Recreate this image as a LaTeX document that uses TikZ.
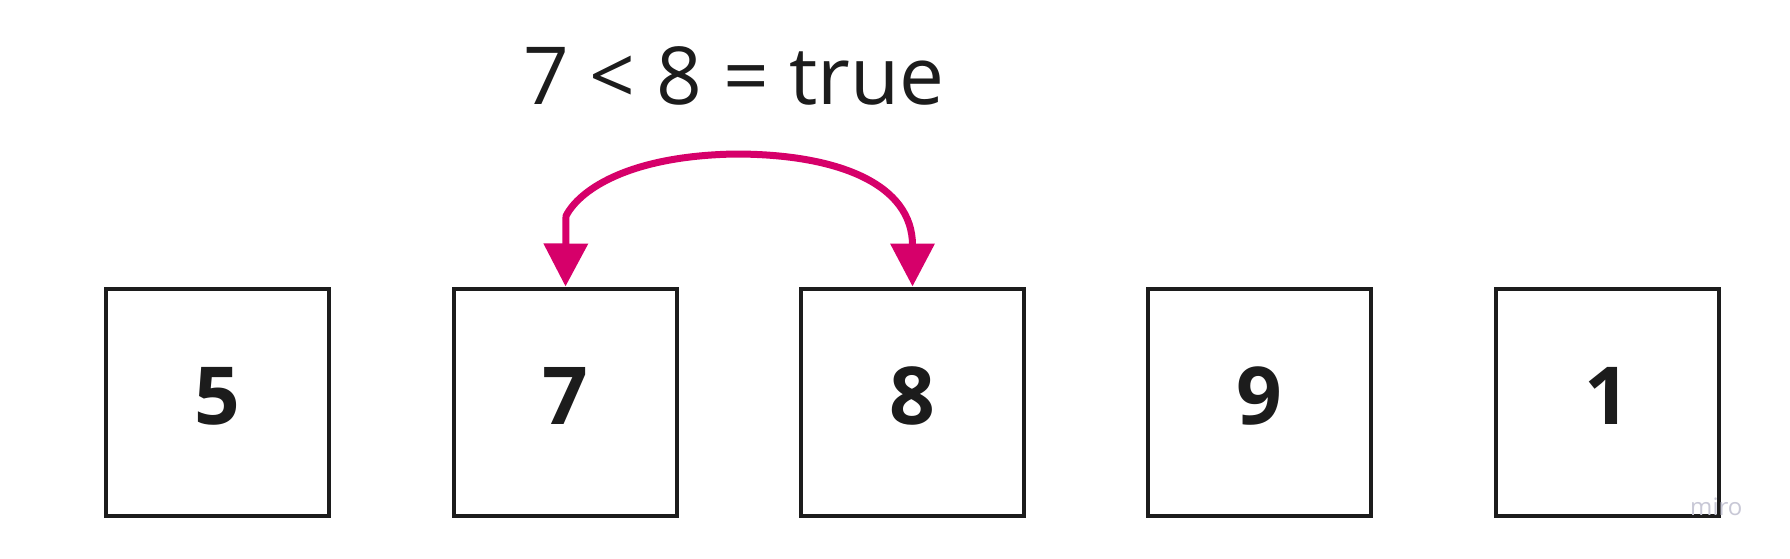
\documentclass[tikz,border=0pt]{standalone}
\usepackage{fontspec}
\setmainfont{Open Sans}
\usetikzlibrary{arrows.meta}
\definecolor{ink}{RGB}{28,28,28}
\definecolor{mag}{RGB}{214,0,106}
\definecolor{wm}{RGB}{200,200,214}
\tikzset{
  cell/.style={draw=ink, line width=4pt, minimum width=223pt, minimum height=227pt,
    inner sep=0pt, text depth=13pt, text=ink, font=\fontsize{80}{96}\selectfont\bfseries},
  swap/.style={draw=mag, line width=7pt, line join=round,
    {Triangle[length=43pt,width=43pt]}-{Triangle[length=43pt,width=43pt]}},
}
\begin{document}
\begin{tikzpicture}[x=1pt,y=-1pt]
\useasboundingbox (0,0) rectangle (1790,558);
\fill[white] (0,0) rectangle (1790,558);
\node[cell] (b1) at (217.5,402) {5};
\node[cell] (b2) at (565.5,402) {7};
\node[cell] (b3) at (912.5,402) {8};
\node[cell] (b4) at (1259.5,402) {9};
\node[cell] (b5) at (1607.5,402) {1};
\node[anchor=base, inner sep=0pt, text=ink, font=\fontsize{80}{96}\selectfont] (lbl) at (734,104) {7 < 8 = true};
\coordinate (apex) at (735,154);
\draw[swap] (b2.north) -- (566,216) .. controls (578,192) and (625,156) .. (apex)
  .. controls (840,154) and (912.5,185) .. (b3.north);
\node[anchor=base west, inner sep=0pt, text=wm, font=\fontsize{24}{28}\selectfont] (wmk) at (1690,515) {miro};
\end{tikzpicture}
\end{document}
